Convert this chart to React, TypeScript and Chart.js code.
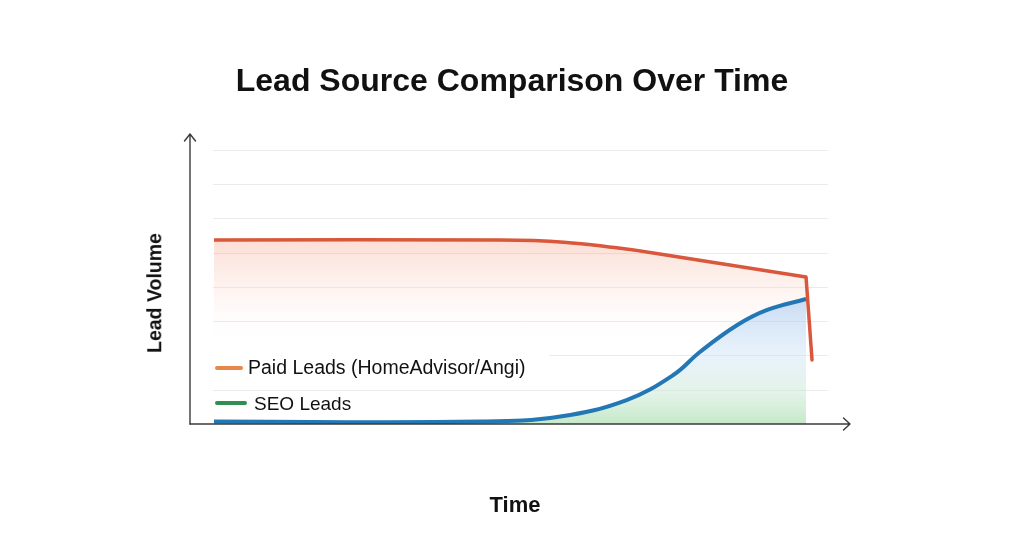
import React, { useEffect, useRef } from "react";
import { Chart, registerables } from "chart.js";

Chart.register(...registerables);

// ---- data (x in abstract time units 0..100, y in lead-volume units) ----
const paidX = [0, 47.8, 58.5, 67.0, 74.0, 99.0];
const paidY = [5.37, 5.37, 5.31, 5.15, 4.98, 4.29];
const paidDropX = [99.0, 100];
const paidDropY = [4.29, 1.87];
const seoX = [0, 44.5, 57.9, 69.0, 76.8, 81.3, 87.5, 92.5, 99.0];
const seoY = [0.07, 0.07, 0.22, 0.7, 1.43, 2.11, 2.89, 3.33, 3.65];
const gridValues = [1, 2, 3, 4, 5, 6, 7, 8];

const TITLE = "Lead Source Comparison Over Time";
const X_TITLE = "Time";
const Y_TITLE = "Lead Volume";
const LEGEND_PAID = "Paid Leads (HomeAdvisor/Angi)";
const LEGEND_SEO = "SEO Leads";

const RED = "#d9573a";
const BLUE = "#2277b4";
const LEG_ORANGE = "#e8874c";
const LEG_GREEN = "#2f8f4e";
const FONT = "'Liberation Sans', Arial, Helvetica, sans-serif";

const toPts = (xs: number[], ys: number[]) => xs.map((x, i) => ({ x, y: ys[i] }));

const gridAxesPlugin = {
  id: "gridAxes",
  beforeDatasetsDraw(chart: any) {
    const { ctx, scales } = chart;
    const xs = scales.x;
    const ys = scales.y;
    ctx.save();
    ctx.strokeStyle = "#ebebeb";
    ctx.lineWidth = 1;
    const x0 = xs.getPixelForValue(0) - 1;
    const x1 = xs.getPixelForValue(102.7);
    gridValues.forEach((v) => {
      const y = Math.round(ys.getPixelForValue(v)) + 0.5;
      ctx.beginPath();
      ctx.moveTo(x0, y);
      ctx.lineTo(x1, y);
      ctx.stroke();
    });
    ctx.restore();
  },
  afterDatasetsDraw(chart: any) {
    const { ctx, chartArea } = chart;
    const { left, right, top, bottom } = chartArea;
    ctx.save();
    ctx.strokeStyle = "#3a3a3a";
    ctx.lineWidth = 1.4;
    ctx.lineCap = "round";
    ctx.lineJoin = "round";
    ctx.beginPath();
    ctx.moveTo(left, bottom);
    ctx.lineTo(left, top);
    ctx.moveTo(left - 5.5, top + 7);
    ctx.lineTo(left, top);
    ctx.lineTo(left + 5.5, top + 7);
    ctx.stroke();
    ctx.beginPath();
    ctx.moveTo(left, bottom);
    ctx.lineTo(right, bottom);
    ctx.moveTo(right - 6.5, bottom - 6);
    ctx.lineTo(right, bottom);
    ctx.lineTo(right - 6.5, bottom + 6);
    ctx.stroke();
    ctx.restore();
  },
};

function redFill(context: any) {
  const { chart } = context;
  const { ctx, chartArea, scales } = chart;
  if (!chartArea || !scales.y) return "rgba(0,0,0,0)";
  const yTop = scales.y.getPixelForValue(5.4);
  const yBot = scales.y.getPixelForValue(2.2);
  const g = ctx.createLinearGradient(0, yTop, 0, yBot);
  g.addColorStop(0, "rgba(244,150,120,0.32)");
  g.addColorStop(0.5, "rgba(248,190,170,0.15)");
  g.addColorStop(1, "rgba(255,255,255,0)");
  return g;
}

function blueFill(context: any) {
  const { chart } = context;
  const { ctx, chartArea, scales } = chart;
  if (!chartArea || !scales.y) return "rgba(0,0,0,0)";
  const yTop = scales.y.getPixelForValue(3.7);
  const yBot = scales.y.getPixelForValue(0);
  const g = ctx.createLinearGradient(0, yTop, 0, yBot);
  g.addColorStop(0, "rgba(150,190,238,0.5)");
  g.addColorStop(0.45, "rgba(205,226,246,0.45)");
  g.addColorStop(0.75, "rgba(200,232,210,0.5)");
  g.addColorStop(1, "rgba(160,218,165,0.6)");
  return g;
}

export default function App() {
  const ref = useRef<HTMLCanvasElement | null>(null);

  useEffect(() => {
    if (!ref.current) return;
    const chart = new Chart(ref.current, {
      type: "line",
      data: {
        datasets: [
          {
            label: "SEO Leads",
            data: toPts(seoX, seoY),
            borderColor: BLUE,
            borderWidth: 4,
            backgroundColor: blueFill as any,
            fill: "origin",
            pointRadius: 0,
            tension: 0.4,
            order: 1,
          },
          {
            label: "Paid Leads",
            data: toPts(paidX, paidY),
            borderColor: RED,
            borderWidth: 3.5,
            backgroundColor: redFill as any,
            fill: "origin",
            pointRadius: 0,
            tension: 0.4,
            order: 2,
          },
          {
            label: "Paid Leads drop",
            data: toPts(paidDropX, paidDropY),
            borderColor: RED,
            borderWidth: 3.5,
            borderCapStyle: "round",
            fill: false,
            pointRadius: 0,
            tension: 0,
            order: 0,
          },
        ],
      },
      options: {
        responsive: false,
        animation: false,
        layout: { padding: { left: 190, right: 174, top: 134, bottom: 135 } },
        plugins: { legend: { display: false }, tooltip: { enabled: false }, title: { display: false } },
        scales: {
          x: { type: "linear", min: -4.01, max: 106.35, display: false },
          y: { type: "linear", min: 0, max: 8.467, display: false },
        },
      },
      plugins: [gridAxesPlugin],
    });
    return () => chart.destroy();
  }, []);

  return (
    <div style={{ position: "fixed", left: 0, top: 0, width: 1024, height: 559, background: "#fff", fontFamily: FONT, color: "#111" }}>
      <canvas ref={ref} width={1024} height={559} style={{ position: "absolute", left: 0, top: 0 }} />
      <div style={{ position: "absolute", left: 0, top: 64, width: 1024, textAlign: "center", fontSize: 32, lineHeight: 1, fontWeight: 700, whiteSpace: "nowrap" }}>
        {TITLE}
      </div>
      <div style={{ position: "absolute", left: 415, top: 494, width: 200, textAlign: "center", fontSize: 22, lineHeight: 1, fontWeight: 700 }}>
        {X_TITLE}
      </div>
      <div style={{ position: "absolute", left: 155, top: 293, transform: "translate(-50%,-50%) rotate(-90deg)", fontSize: 19.5, lineHeight: 1, fontWeight: 700, whiteSpace: "nowrap" }}>
        {Y_TITLE}
      </div>
      <div style={{ position: "absolute", left: 206, top: 346, width: 344, height: 38, background: "rgba(255,255,255,0.92)" }} />
      <div style={{ position: "absolute", left: 215, top: 365.5, width: 28, height: 4, borderRadius: 2, background: LEG_ORANGE }} />
      <div style={{ position: "absolute", left: 248, top: 357.5, fontSize: 19.5, lineHeight: 1, whiteSpace: "nowrap" }}>{LEGEND_PAID}</div>
      <div style={{ position: "absolute", left: 215, top: 400.5, width: 32, height: 4, borderRadius: 2, background: LEG_GREEN }} />
      <div style={{ position: "absolute", left: 254, top: 394, fontSize: 19, lineHeight: 1, whiteSpace: "nowrap" }}>{LEGEND_SEO}</div>
    </div>
  );
}
